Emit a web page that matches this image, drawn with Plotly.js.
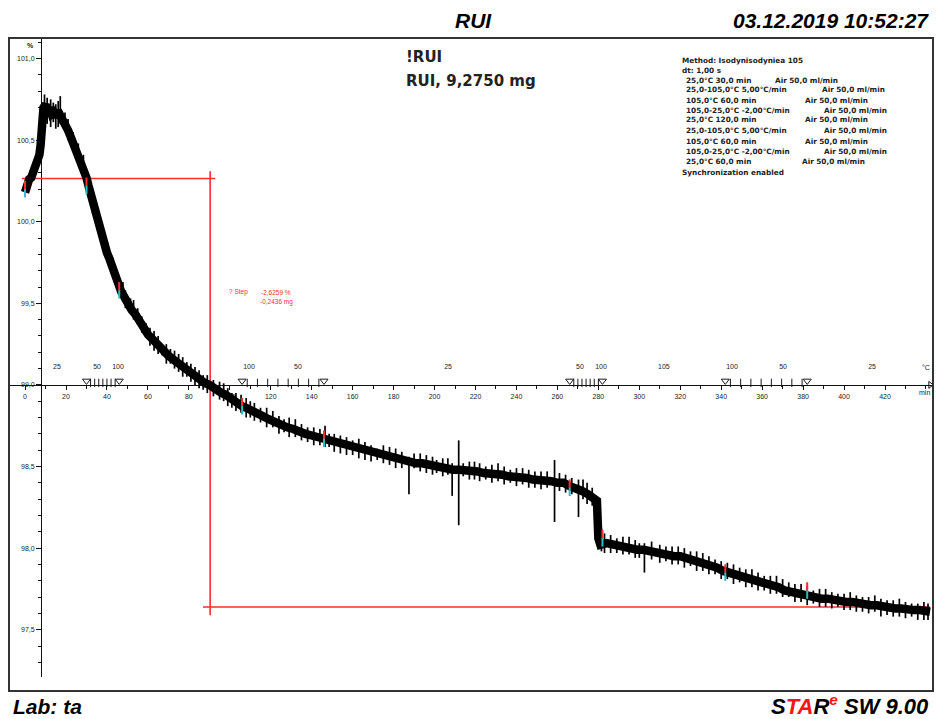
<!DOCTYPE html>
<html>
<head>
<meta charset="utf-8">
<script src="https://cdn.plot.ly/plotly-3.0.1.min.js"></script>
<style>html,body{margin:0;padding:0;background:#fff;}#chart{width:938px;height:719px;}</style>
</head>
<body>
<div id="chart"></div>
<script>
// ---- data ----
const time = [0,1,2,3,4,5,6,7,7.6,8,9,10,11,12,13,14,15,16,17,18,19,20,21,22,23,24,25,26,27,28,29,30,31,32,33,34,35,36,37,38,39,40,41,42,43,44,45,46,47,48,49,50,52,54,56,58,60,62,64,66,68,70,72,74,76,78,80,82,84,86,88,90,92,94,96,98,100,102,104,106,108,110,
113,116,119,122,125,128,131,134,137,140,143,146,149,152,155,158,161,164,167,170,173,176,179,182,185,188,191,194,197,200,203,206,209,212,215,218,221,224,227,230,233,236,239,242,245,248,251,254,257,260,263,266,269,272,275,278,279.3,280,281,
284,287,290,293,296,299,302,305,308,311,314,317,320,323,326,329,332,335,338,341,344,347,350,353,356,359,362,365,368,371,374,377,380,383,386,389,392,395,398,401,404,407,410,413,416,419,422,425,428,431,434,437,440,442];
const mass = [100.18,100.23,100.26,100.27,100.31,100.32,100.37,100.41,100.47,100.70,100.70,100.72,100.66,100.70,100.66,100.67,100.64,100.68,100.66,100.64,100.62,100.59,100.56,100.53,100.50,100.47,100.45,100.42,100.39,100.35,100.32,100.27,100.22,100.17,100.12,100.07,100.02,99.97,99.93,99.89,99.85,99.81,99.78,99.74,99.71,99.67,99.64,99.60,99.57,99.55,99.52,99.51,99.46,99.43,99.38,99.35,99.31,99.28,99.25,99.22,99.20,99.18,99.16,99.14,99.12,99.10,99.08,99.06,99.04,99.03,99.01,99.00,98.98,98.97,98.95,98.94,98.92,98.91,98.89,98.87,98.86,98.85,
98.83,98.81,98.79,98.77,98.75,98.74,98.73,98.71,98.70,98.69,98.68,98.67,98.66,98.64,98.63,98.62,98.61,98.61,98.59,98.58,98.57,98.57,98.55,98.55,98.54,98.53,98.52,98.52,98.51,98.50,98.49,98.49,98.48,98.48,98.48,98.47,98.47,98.46,98.46,98.45,98.45,98.44,98.44,98.43,98.43,98.42,98.42,98.42,98.41,98.40,98.40,98.38,98.37,98.35,98.33,98.31,98.29,98.06,98.02,
98.03,98.02,98.02,98.01,98.00,97.99,97.99,97.98,97.97,97.97,97.96,97.95,97.95,97.94,97.93,97.92,97.91,97.89,97.88,97.86,97.85,97.84,97.83,97.81,97.80,97.79,97.78,97.77,97.76,97.74,97.73,97.72,97.71,97.70,97.70,97.69,97.69,97.68,97.68,97.67,97.67,97.66,97.66,97.65,97.65,97.64,97.64,97.63,97.63,97.62,97.62,97.62,97.61,97.61];
// noise hairs around the band (time, low, high)
const spikeTimes = [9.5,12.5,15,17.2,21,26,33,38,43,49,53,57,61,65,69,73,77,81,85,89,95,99,103,108,112,118,124,129,135,141,146.5,151,157,163,169,175,181,187.5,193,199,204,208.6,211.8,217,222,228,234,240,246,252,258.6,264,270.3,274.5,281.5,286,292,298,302.5,310,316,322,328,334,340,346,352,358,364,370,376,382,388,394,400,406,412,418,424,430,436,441,
10.8,13.8,16.2,19.5,23.5,28.5,31.5,35.5,40.5,45.5,47.8,51.5,55,59,63,67,71,75,79,83,87,92,97,101,105.5,110,115,121,126.5,132,138,144,148.5,154,160,166,172,178,184,190,196,201,206.5,214,219.5,225,231,237,243,249,255,261,267,272.5,277,283,289,295,300,306,313,319,325,331,337,343,349,355,361,367,373,379,385,391,397,403,409,415,421,427,433,439];
const spikeLow   = [100.62,100.58,100.57,100.60,100.50,100.36,100.05,99.84,99.66,99.47,99.40,99.32,99.24,99.19,99.13,99.10,99.05,99.02,98.98,98.95,98.91,98.87,98.84,98.80,98.78,98.74,98.70,98.68,98.66,98.63,98.62,98.59,98.57,98.55,98.53,98.52,98.49,98.33,98.47,98.45,98.44,98.32,98.14,98.42,98.41,98.40,98.39,98.38,98.37,98.36,98.16,98.34,98.19,98.27,97.98,97.97,97.96,97.94,97.85,97.91,97.90,97.88,97.86,97.84,97.81,97.78,97.76,97.74,97.72,97.70,97.67,97.65,97.64,97.63,97.62,97.61,97.60,97.58,97.58,97.57,97.56,97.56,
100.60,100.61,100.58,100.56,100.44,100.29,100.16,99.95,99.75,99.58,99.51,99.44,99.37,99.29,99.21,99.18,99.13,99.08,99.05,99.00,98.97,98.93,98.90,98.86,98.83,98.80,98.77,98.74,98.71,98.68,98.65,98.63,98.62,98.58,98.57,98.54,98.54,98.51,98.49,98.49,98.46,98.46,98.45,98.44,98.42,98.42,98.41,98.40,98.39,98.37,98.37,98.35,98.33,98.30,98.26,97.97,97.97,97.96,97.94,97.93,97.92,97.90,97.89,97.86,97.84,97.81,97.79,97.76,97.74,97.72,97.70,97.67,97.66,97.64,97.64,97.62,97.61,97.61,97.59,97.58,97.58,97.56];
const spikeHigh  = [100.78,100.75,100.72,100.77,100.63,100.48,100.18,99.95,99.78,99.58,99.52,99.42,99.35,99.30,99.25,99.21,99.17,99.13,99.09,99.06,99.02,98.98,98.95,98.92,98.89,98.86,98.81,98.80,98.76,98.74,98.75,98.70,98.68,98.67,98.63,98.63,98.61,98.56,98.58,98.56,98.55,98.52,98.66,98.53,98.52,98.51,98.50,98.49,98.48,98.47,98.54,98.45,98.42,98.40,98.12,98.08,98.07,98.05,98.03,98.02,98.01,98.00,97.98,97.95,97.92,97.90,97.87,97.85,97.83,97.81,97.78,97.77,97.75,97.73,97.72,97.71,97.70,97.69,97.68,97.67,97.66,97.66,
100.76,100.73,100.74,100.67,100.55,100.41,100.27,100.05,99.87,99.68,99.63,99.53,99.47,99.38,99.33,99.25,99.22,99.19,99.14,99.11,99.06,99.03,99.01,98.95,98.94,98.90,98.86,98.84,98.79,98.79,98.74,98.73,98.70,98.69,98.66,98.65,98.61,98.62,98.59,98.58,98.57,98.54,98.55,98.52,98.53,98.50,98.52,98.48,98.49,98.47,98.47,98.46,98.43,98.42,98.37,98.09,98.06,98.07,98.03,98.04,98.01,98.01,97.98,97.97,97.93,97.91,97.88,97.87,97.83,97.83,97.79,97.78,97.74,97.75,97.72,97.73,97.70,97.71,97.68,97.69,97.66,97.67];

// segment boundaries of the method (min) and curve value there (%)
const segTimes = [0,30,46,106,146,266,282,342,382];
const segMass  = [100.20,100.22,99.58,98.87,98.67,98.37,98.06,97.85,97.74];
// temperature scale on the time axis
const tempLabels = ['25','50','100','100','50','25','50','100','105','100','50','25'];
const tempLabelTimes = [15.6,35.2,45.4,109.4,133.3,206.6,271,281.3,312,345.3,370.2,413.7];
const tempTickTimes = [32,34,36,38,40,42,44,108.5,113.5,118.5,123.5,128.5,133.5,138.5,143.5,268,270,272,274,276,278,280,344.5,349.5,354.5,359.5,364.5,369.5,374.5,379.5];
const boundaryMarkTimes = [30,46,106,146,266,282,342,382];
const timeTicks = [0,20,40,60,80,100,120,140,160,180,200,220,240,260,280,300,320,340,360,380,400,420];
// step evaluation
const stepTime = 90.4;
const stepUpper = 100.265;
const stepLower = 97.639;
const stepText = ['? Step', '-2,6259 %', '-0,2436 mg'];

const methodLeft = ['25,0°C 30,0 min','25,0-105,0°C 5,00°C/min','105,0°C 60,0 min','105,0-25,0°C -2,00°C/min','25,0°C 120,0 min','25,0-105,0°C 5,00°C/min','105,0°C 60,0 min','105,0-25,0°C -2,00°C/min','25,0°C 60,0 min'];
const methodGas = 'Air 50,0 ml/min';

// ---- geometry ----
const W = 938, H = 719;
const M = {l: 9, r: 5, t: 38, b: 28};
const PW = W - M.l - M.r, PH = H - M.t - M.b;
const xr = [-7.84, 443.44];
const yr = [97.21, 101.126];
const yDom0 = 14 / PH;
const axisTime = 7.8;     // where the % axis crosses
const axisMass = 99.0;    // where the time axis crosses
const pxPerUnitY = (PH * (1 - yDom0)) / (yr[1] - yr[0]);
const xAxisPos = yDom0 + (axisMass - yr[0]) / (yr[1] - yr[0]) * (1 - yDom0);
const yAxisPos = (axisTime - xr[0]) / (xr[1] - xr[0]);
const px = x => (x - M.l) / PW;
const py = y => (H - M.b - y) / PH;

const F = 'Liberation Sans, Arial, sans-serif';
const red = 'rgb(255,45,45)';
const cyan = 'rgb(40,190,200)';
const ink = '#1a1a1a';

const traces = [];
// step evaluation lines
traces.push({x:[xr[0]+6.3, stepTime+2.5], y:[stepUpper, stepUpper], mode:'lines', line:{color:red, width:1.6}, hoverinfo:'skip'});
traces.push({x:[stepTime, stepTime], y:[stepUpper+0.045, stepLower-0.05], mode:'lines', line:{color:red, width:1.6}, hoverinfo:'skip'});
traces.push({x:[stepTime-3.5, time[time.length-1]], y:[stepLower, stepLower], mode:'lines', line:{color:red, width:1.6}, hoverinfo:'skip'});
// curve: noisy band
traces.push({x: time, y: mass, mode:'lines', line:{color:'#000', width:8.5}, hoverinfo:'skip'});
// hairs
const sx = [], sy = [];
spikeTimes.forEach((t, i) => { sx.push(t, t, null); sy.push(spikeLow[i], spikeHigh[i], null); });
traces.push({x: sx, y: sy, mode:'lines', line:{color:'#000', width:1.7}, connectgaps:false, hoverinfo:'skip'});
// segment markers on the curve
traces.push({x: segTimes, y: segMass.map(v => v + 0.025), mode:'markers', marker:{symbol:'line-ns-open', size:6, color:red, line:{color:red, width:2}}, hoverinfo:'skip'});
traces.push({x: segTimes, y: segMass.map(v => v - 0.025), mode:'markers', marker:{symbol:'line-ns-open', size:6, color:cyan, line:{color:cyan, width:2}}, hoverinfo:'skip'});
// temperature scale along the time axis
traces.push({x: tempLabelTimes, y: tempLabels.map(() => axisMass + 18 / pxPerUnitY), mode:'text', text: tempLabels, textfont:{family:F, size:7, color:'#222'}, hoverinfo:'skip'});
traces.push({x: tempTickTimes, y: tempTickTimes.map(() => axisMass + 2 / pxPerUnitY), mode:'markers', marker:{symbol:'line-ns-open', size:6, color:ink, line:{color:ink, width:1}}, hoverinfo:'skip'});
traces.push({x: boundaryMarkTimes, y: boundaryMarkTimes.map(() => axisMass + 4 / pxPerUnitY), mode:'markers', marker:{symbol:'triangle-down-open', size:7, color:ink, line:{color:ink, width:1}}, hoverinfo:'skip'});
traces.push({x: [xr[1]-1.3], y: [axisMass], mode:'markers', marker:{symbol:'triangle-right-open', size:6, color:ink, line:{color:ink, width:1}}, hoverinfo:'skip'});

const ann = [];
function A(text, x, y, opts) {
  ann.push(Object.assign({text, x: px(x), y: py(y), xref:'paper', yref:'paper', showarrow:false, xanchor:'left', yanchor:'middle', font:{family:F, size:7, color:'#222'}}, opts || {}));
}
A('<b><i>RUI</i></b>', 473, 20, {xanchor:'center', font:{family:F, size:21, color:'#000'}});
A('<b><i>03.12.2019 10:52:27</i></b>', 931, 20, {xanchor:'right', font:{family:F, size:21, color:'#000'}});
A('<b><i>Lab: ta</i></b>', 11, 707, {font:{family:F, size:21, color:'#000'}});
A('<b><i>S<span style="color:rgb(255,20,20)">TA</span>R<sup><span style="color:rgb(255,20,20)">e</span></sup> SW 9.00</i></b>', 931, 705, {xanchor:'right', font:{family:F, size:22, color:'#000'}});
A('<b>!RUI</b>', 404, 57, {font:{family:'DejaVu Sans, sans-serif', size:15, color:'#222'}});
A('<b>RUI, 9,2750 mg</b>', 404, 81, {font:{family:'DejaVu Sans, sans-serif', size:15, color:'#222'}});
const mF = {family:'DejaVu Sans, sans-serif', size:7.3, color:'#222'};
A('<b>Method: Isodynisodyniea 105</b>', 680, 61, {font:mF});
A('<b>dt: 1,00 s</b>', 680, 70, {font:mF});
const mY = [80,90,100,110,120,130,141,151,161];
const gasX = [773,820,803,822,803,822,803,822,800];
methodLeft.forEach((t, i) => { A('<b>' + t + '</b>', 684, mY[i], {font:mF}); A('<b>' + methodGas + '</b>', gasX[i], mY[i], {font:mF}); });
A('<b>Synchronization enabled</b>', 680, 172, {font:mF});
A('<b>%</b>', 30, 45, {xanchor:'center', font:{family:F, size:7, color:'#222'}});
A('min', 924, 392, {xanchor:'center', font:{family:F, size:7, color:'#222'}});
A('°C', 926, 367, {xanchor:'center', font:{family:F, size:7, color:'#222'}});
const sF = {family:F, size:6.5, color:red};
A(stepText[0], 227, 292, {font:sF});
A(stepText[1], 259, 292, {font:sF});
A(stepText[2], 258, 302, {font:sF});

const layout = {
  width: W, height: H,
  margin: {l:M.l, r:M.r, t:M.t, b:M.b, pad:0},
  paper_bgcolor:'#fff', plot_bgcolor:'#fff',
  showlegend:false,
  separators: ', ',
  xaxis: {range: xr, anchor:'free', position: xAxisPos, showline:true, linecolor:'#111', linewidth:1.2,
    ticks:'outside', ticklen:4, tickcolor:'#111', tickwidth:1, tickmode:'array', tickvals: timeTicks, ticktext: timeTicks.map(String),
    minor:{dtick:10, tick0:0, ticks:'outside', ticklen:3, tickcolor:'#111', tickwidth:1},
    showgrid:false, zeroline:false, tickfont:{family:F, size:7, color:'#222'}, layer:'below traces', fixedrange:true},
  yaxis: {range: yr, domain:[yDom0, 1], anchor:'free', position: yAxisPos, showline:true, linecolor:'#111', linewidth:1.2,
    ticks:'outside', ticklen:5, tickcolor:'#111', tickwidth:1, tick0:0, dtick:0.5, tickformat:'.1f',
    minor:{dtick:0.1, ticks:'outside', ticklen:3, tickcolor:'#111', tickwidth:1},
    showgrid:false, zeroline:false, tickfont:{family:F, size:7, color:'#222'}, layer:'below traces', fixedrange:true},
  shapes: [
    {type:'rect', xref:'paper', yref:'paper', x0:0, x1:1, y0:0, y1:1, line:{color:'#333', width:2}, layer:'above'}
  ],
  annotations: ann
};
Plotly.newPlot('chart', traces, layout, {staticPlot:true, displayModeBar:false});
</script>
</body>
</html>
